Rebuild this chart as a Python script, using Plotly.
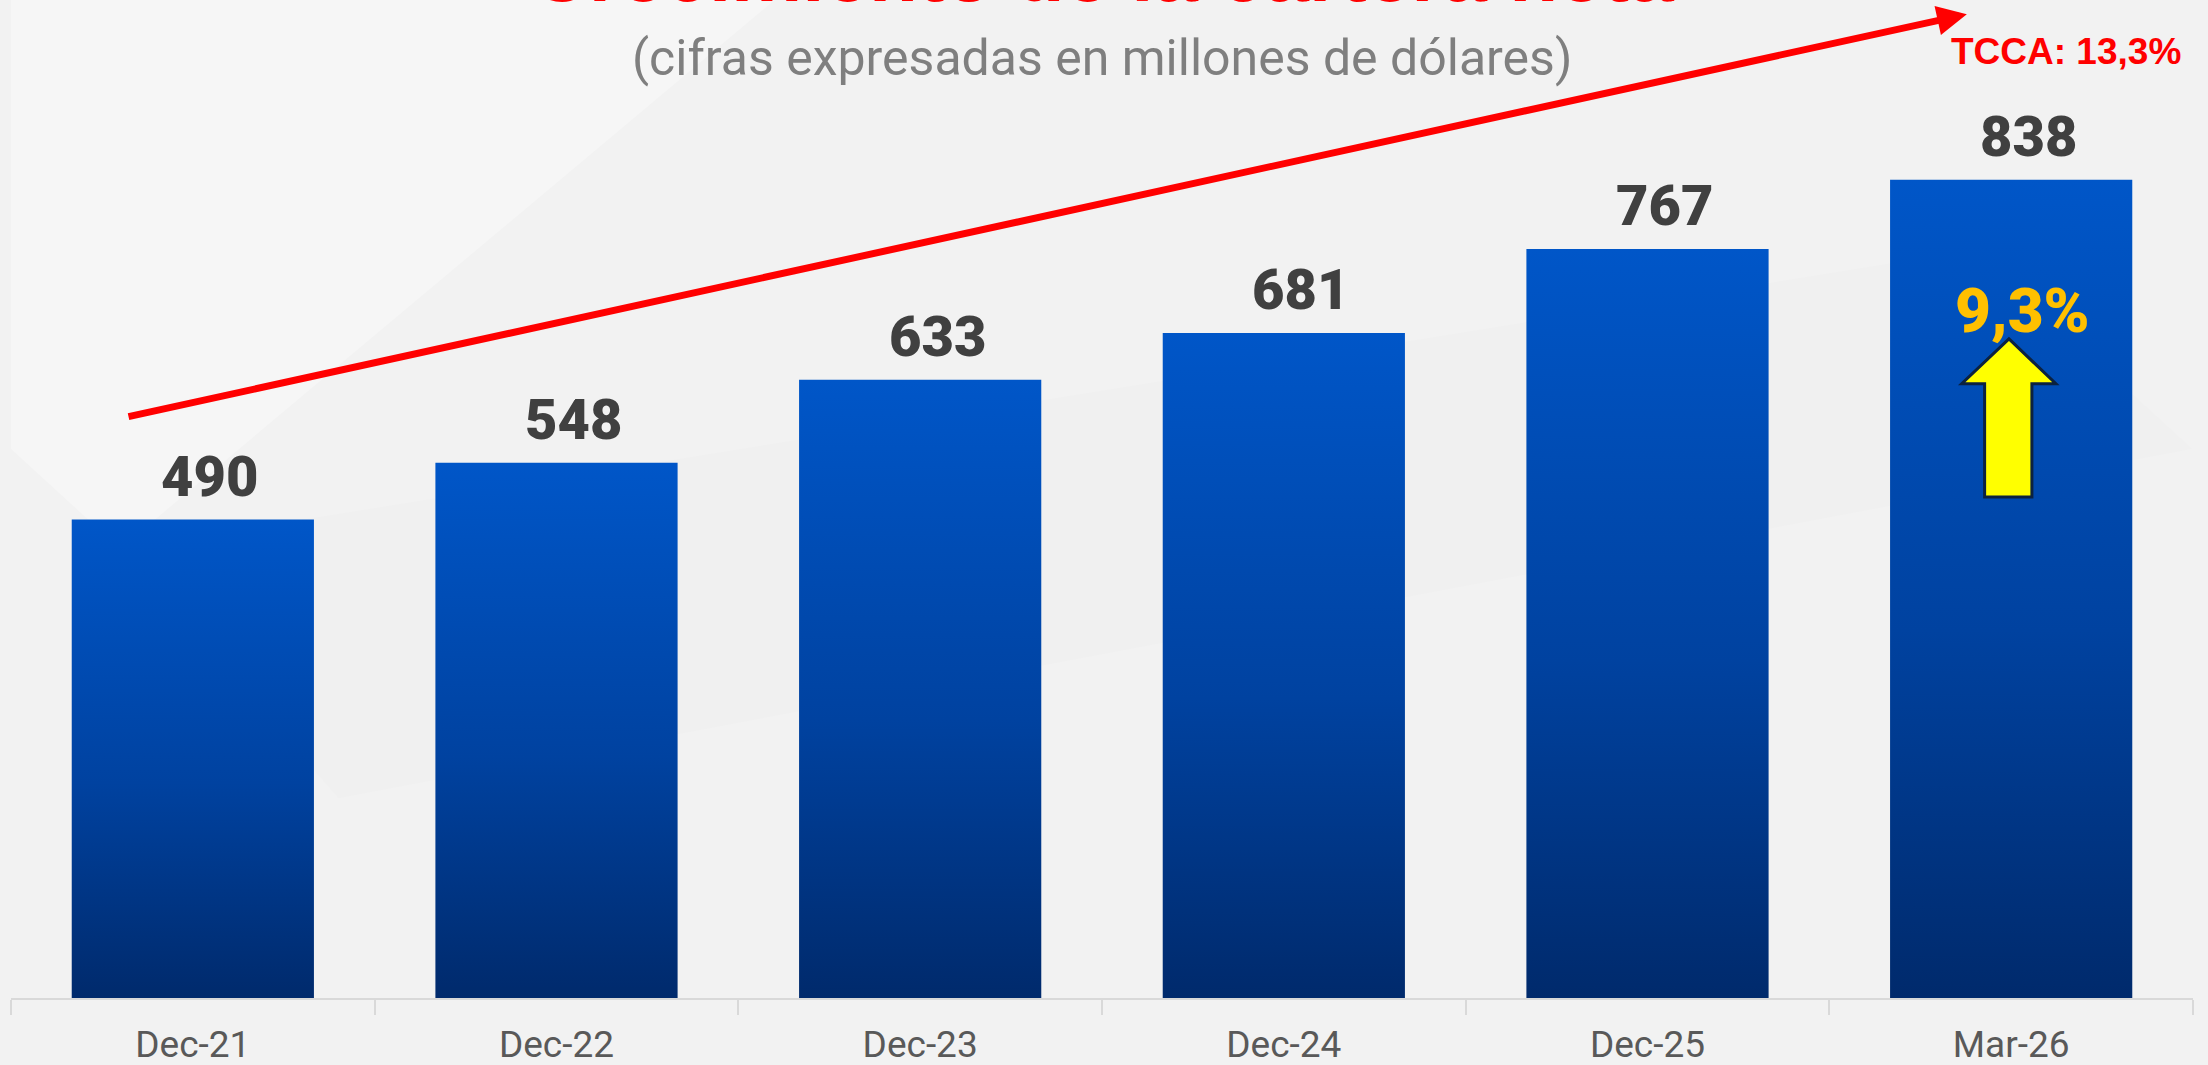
import plotly.graph_objects as go

categories = ["Dec-21", "Dec-22", "Dec-23", "Dec-24", "Dec-25", "Mar-26"]
values = [490, 548, 633, 681, 767, 838]
value_labels = ["490", "548", "633", "681", "767", "838"]
title_text = "Crecimiento de la cartera neta"
subtitle_text = "(cifras expresadas en millones de dólares)"
cagr_text = "TCCA: 13,3%"
last_growth_text = "9,3%"

BAR_HALF = 0.333
NARROW = "Roboto, sans-serif"
BOLD = "Liberation Sans, Arial, sans-serif"
HEAVY = "Roboto, Liberation Sans, sans-serif"

fig = go.Figure()

# bars with vertical gradient
for i, v in enumerate(values):
    fig.add_trace(go.Scatter(
        x=[i - BAR_HALF, i + BAR_HALF, i + BAR_HALF, i - BAR_HALF, i - BAR_HALF],
        y=[0, 0, v, v, 0],
        mode="lines", fill="toself",
        line=dict(width=0, color="rgba(0,0,0,0)"),
        fillgradient=dict(type="vertical",
                          colorscale=[[0, "#002A6C"], [0.45, "#0042A0"], [1, "#0056C8"]]),
        hoverinfo="skip", showlegend=False,
    ))
    fig.add_annotation(x=i, y=v, xref="x", yref="y", text=value_labels[i],
                       showarrow=False, yanchor="bottom", yshift=8, xshift=17,
                       font=dict(family=HEAVY, size=56, color="#404040", weight=900))

shapes = []
# faint background texture
shapes.append(dict(type="path", xref="paper", yref="paper", layer="below",
                   path="M 0 1 L 0.35 1 L 0.05 0.45 L 0 0.55 Z",
                   fillcolor="rgba(255,255,255,0.3)", line=dict(width=0)))
shapes.append(dict(type="path", xref="paper", yref="paper", layer="below",
                   path="M 0.05 0.45 L 0.9 0.75 L 1 0.55 L 0.15 0.2 Z",
                   fillcolor="rgba(0,0,0,0.006)", line=dict(width=0)))

# yellow up arrow inside the last bar
cx = len(values) - 1
ax_path = (f"M {cx-0.006} 675 L {cx+0.123} 629 L {cx+0.057} 629 L {cx+0.057} 513 "
           f"L {cx-0.073} 513 L {cx-0.073} 629 L {cx-0.136} 629 Z")
shapes.append(dict(type="path", xref="x", yref="y", path=ax_path,
                   fillcolor="#FFFF00", line=dict(color="#0B2240", width=3)))

fig.update_layout(shapes=shapes)

# red trend arrow
fig.add_annotation(x=4.878, y=1007.5, ax=-0.181, ay=595, xref="x", yref="y",
                   axref="x", ayref="y", text="", showarrow=True,
                   arrowhead=2, arrowsize=0.85, arrowwidth=7, arrowcolor="#FF0000",
                   standoff=0, startstandoff=0)

fig.add_annotation(x=5.15, y=969, xref="x", yref="y", text=cagr_text, showarrow=False,
                   xanchor="center", yanchor="middle",
                   font=dict(family=BOLD, size=37, color="#FF0000", weight="bold"))

fig.add_annotation(x=5.032, y=704, xref="x", yref="y", text=last_growth_text, showarrow=False,
                   xanchor="center", yanchor="middle",
                   font=dict(family=HEAVY, size=62, color="#FFC000", weight=900))

fig.add_annotation(x=0.5, y=0.942, xref="paper", yref="paper", text=subtitle_text,
                   showarrow=False, xanchor="center", yanchor="middle",
                   font=dict(family=NARROW, size=50, color="#7F7F7F"))

fig.add_annotation(x=0.5, y=1, xref="paper", yref="paper", text=title_text,
                   showarrow=False, xanchor="center", yanchor="bottom", yshift=-20,
                   font=dict(family=BOLD, size=80, color="#FF0000", weight="bold"))

fig.update_layout(
    width=2208, height=1065,
    margin=dict(l=11, r=15, t=0, b=67, autoexpand=False),
    paper_bgcolor="#F2F2F2", plot_bgcolor="rgba(0,0,0,0)",
    showlegend=False,
    xaxis=dict(range=[-0.5, len(values) - 0.5], tickmode="array",
               tickvals=list(range(len(categories))), ticktext=categories,
               ticks="outside", ticklen=13, tickcolor="rgba(0,0,0,0)",
               showgrid=False, zeroline=False, showline=True, automargin=False,
               linecolor="#D9D9D9", linewidth=2,
               tickfont=dict(family=NARROW, size=37, color="#595959"),
               minor=dict(tick0=0.5, dtick=1, ticks="outside", ticklen=15,
                          tickcolor="#D9D9D9", tickwidth=2, showgrid=False),
               fixedrange=True),
    yaxis=dict(range=[0, 1022], visible=False, showgrid=False, zeroline=False,
               automargin=False, fixedrange=True),
)

fig.write_html(
    "out.html",
    config={"displayModeBar": False},
    post_script="document.body.style.margin='0';document.body.style.background='#F2F2F2';document.body.style.overflow='hidden';",
)
